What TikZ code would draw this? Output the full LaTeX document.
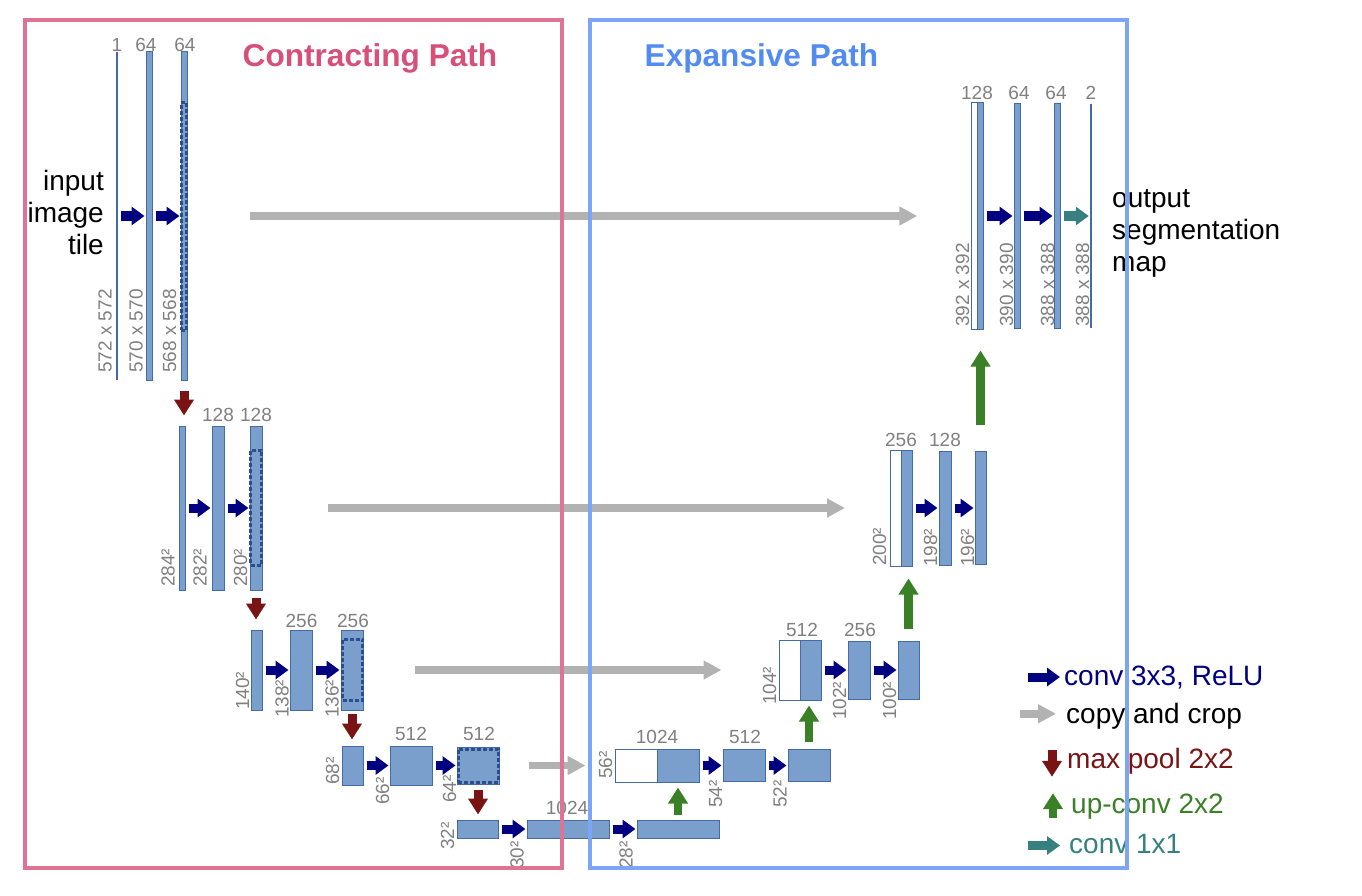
\documentclass[tikz,border=0pt]{standalone}
\usepackage{fontspec}
\setmainfont{Liberation Sans}
\usepackage{xcolor}
\usetikzlibrary{arrows.meta}

\definecolor{mapfill}{RGB}{123,159,204}
\definecolor{mapedge}{RGB}{68,106,168}
\definecolor{cropedge}{RGB}{45,78,142}
\definecolor{labgray}{RGB}{128,128,128}
\definecolor{convcol}{RGB}{0,0,128}
\definecolor{copycol}{RGB}{178,178,178}
\definecolor{poolcol}{RGB}{122,20,20}
\definecolor{upcol}{RGB}{58,128,38}
\definecolor{outcol}{RGB}{55,128,127}
\definecolor{pinkframe}{RGB}{222,115,150}
\definecolor{pinktitle}{RGB}{214,80,122}
\definecolor{blueframe}{RGB}{125,165,245}
\definecolor{bluetitle}{RGB}{82,140,240}

\begin{document}
\begin{tikzpicture}[x=1pt, y=-1pt,
  fmap/.style 2 args={draw=mapedge, fill=mapfill, line width=1pt, inner sep=0pt, minimum width=#1, minimum height=#2},
  emap/.style 2 args={fmap={#1}{#2}, fill=white},
  thinmap/.style 2 args={fmap={#1}{#2}, draw=none, fill=mapedge},
  crop/.style 2 args={draw=cropedge, dash pattern=on 4pt off 2pt, line width=3pt, inner sep=0pt, minimum width=#1, minimum height=#2},
  chan/.style={font=\fontsize{19}{22}\selectfont, text=labgray, inner sep=0pt},
  dim/.style={chan, rotate=90, anchor=west},
  big/.style={font=\fontsize{28}{32}\selectfont, inner sep=0pt},
  title/.style={font=\fontsize{31.6}{36}\selectfont\bfseries, inner sep=0pt, anchor=base},
  conv/.style={-{Triangle[length=13pt,width=18pt]}, line width=9pt, draw=convcol, shorten <=3pt, shorten >=1pt},
  copy/.style={-{Triangle[length=18pt,width=18pt]}, line width=7.5pt, draw=copycol},
  pool/.style={-{Triangle[length=16pt,width=19pt]}, line width=9pt, draw=poolcol},
  up/.style={-{Triangle[length=16pt,width=19pt]}, line width=8.5pt, draw=upcol},
  last/.style={conv, draw=outcol}]
\useasboundingbox (0,0) rectangle (1362,896);

% contracting path
\node[thinmap={1.5}{328}] (c10) at (117,216) {};
\node[fmap={6}{328}] (c11) at (149,216) {};
\node[fmap={6}{328}] (c12) at (184,216) {};
\node[crop={5.5}{227}] (k1) at (184,216.5) {};
\node[fmap={6}{164}] (c21) at (182,508) {};
\node[fmap={12}{164}] (c22) at (218,508) {};
\node[fmap={12}{164}] (c23) at (256,508) {};
\node[crop={11}{115}] (k2) at (256,507.5) {};
\node[fmap={11}{80}] (c31) at (256.5,670) {};
\node[fmap={22}{80}] (c32) at (301,670) {};
\node[fmap={22}{80}] (c33) at (352,670) {};
\node[crop={20}{61}] (k3) at (352.5,669.5) {};
\node[fmap={21}{39}] (c41) at (352.5,765.5) {};
\node[fmap={42}{39}] (c42) at (411,765.5) {};
\node[fmap={42}{37}] (c43) at (478,765.5) {};
\node[crop={40}{33}] (k4) at (478,765.5) {};
\node[fmap={41}{18}] (c51) at (478,829) {};
\node[fmap={82}{18}] (c52) at (568,829) {};
\node[fmap={82}{18}] (c53) at (678,829) {};

% expansive path
\node[emap={42}{33}] (u4w) at (636,765.5) {};
\node[fmap={42}{33}] (u4b) at (678,765.5) {};
\node[fmap={42}{32}] (e41) at (744,765.5) {};
\node[fmap={42}{32}] (e42) at (809,765.5) {};
\node[emap={21}{60}] (u3w) at (789.5,670) {};
\node[fmap={21}{60}] (u3b) at (810.5,670) {};
\node[fmap={22}{58}] (e31) at (859,670) {};
\node[fmap={21}{58}] (e32) at (908.5,670) {};
\node[emap={11}{116}] (u2w) at (896,508) {};
\node[fmap={11}{116}] (u2b) at (907,508) {};
\node[fmap={12}{114}] (e21) at (945,508) {};
\node[fmap={11}{113}] (e22) at (980.5,508) {};
\node[emap={5.5}{226}] (u1w) at (974.5,216) {};
\node[fmap={6}{226}] (u1b) at (980,216) {};
\node[fmap={6}{224}] (e11) at (1017,216) {};
\node[fmap={6}{224}] (e12) at (1057,216) {};
\node[thinmap={1.5}{224}] (out) at (1091,216) {};

% channels
\node[chan] (n10) at (117,44.5) {1};
\node[chan] (n11) at (146,44.5) {64};
\node[chan] (n12) at (185,44.5) {64};
\node[chan] (n22) at (218,415) {128};
\node[chan] (n23) at (256,415) {128};
\node[chan] (n32) at (301.5,621) {256};
\node[chan] (n33) at (353,621) {256};
\node[chan] (n42) at (411,734) {512};
\node[chan] (n43) at (479,734) {512};
\node[chan] (n52) at (567,808) {1024};
\node[chan] (m4) at (657,737) {1024};
\node[chan] (m41) at (745,737) {512};
\node[chan] (m3) at (802,629.5) {512};
\node[chan] (m31) at (860,630) {256};
\node[chan] (m2) at (901,440) {256};
\node[chan] (m21) at (945,440) {128};
\node[chan] (m1) at (977,93) {128};
\node[chan] (m11) at (1019,93) {64};
\node[chan] (m12) at (1056,93) {64};
\node[chan] (m13) at (1091,93) {2};

% sizes
\node[dim] (s10) at (105,373) {572 x 572};
\node[dim] (s11) at (136,373) {570 x 570};
\node[dim] (s12) at (169.5,373) {568 x 568};
\node[dim] (s21) at (168,587) {284²};
\node[dim] (s22) at (200,587) {282²};
\node[dim] (s23) at (240.5,587) {280²};
\node[dim] (s31) at (242.5,710) {140²};
\node[dim] (s32) at (282,718) {138²};
\node[dim] (s33) at (332,718) {136²};
\node[dim] (s41) at (332.5,785) {68²};
\node[dim] (s42) at (382.5,805) {66²};
\node[dim] (s43) at (449.5,803) {64²};
\node[dim] (s51) at (447.5,850) {32²};
\node[dim] (s52) at (517,869) {30²};
\node[dim] (s53) at (626,869) {28²};
\node[dim] (t4) at (605.5,779) {56²};
\node[dim] (t41) at (715.5,808) {54²};
\node[dim] (t42) at (780,808) {52²};
\node[dim] (t3) at (769.5,705) {104²};
\node[dim] (t31) at (839.5,720) {102²};
\node[dim] (t32) at (889.5,720) {100²};
\node[dim] (t2) at (879.5,566) {200²};
\node[dim] (t21) at (930.5,567) {198²};
\node[dim] (t22) at (967.5,567) {196²};
\node[dim] (t1) at (962.5,327) {392 x 392};
\node[dim] (t11) at (1006.5,327) {390 x 390};
\node[dim] (t12) at (1047.5,327) {388 x 388};
\node[dim] (t13) at (1082.5,327) {388 x 388};

% texts
\node[big, align=right, anchor=north east] (inp) at (104,170) {input\\image\\tile};
\node[big, align=left, anchor=north west] (outp) at (1112,189) {output\\segmentation\\map};
\node[title, text=pinktitle] (tc) at (370,67) {Contracting Path};
\node[title, text=bluetitle] (te) at (761.5,67) {Expansive Path};

% conv 3x3
\draw[conv] (c10) -- (c11);
\draw[conv] (c11) -- (c12);
\draw[conv] (c21) -- (c22);
\draw[conv] (c22) -- (c23);
\draw[conv] (c31) -- (c32);
\draw[conv] (c32) -- (c33);
\draw[conv] (c41) -- (c42);
\draw[conv] (c42) -- (c43);
\draw[conv] (c51) -- (c52);
\draw[conv] (c52) -- (c53);
\draw[conv] (u4b) -- (e41);
\draw[conv] (e41) -- (e42);
\draw[conv] (u3b) -- (e31);
\draw[conv] (e31) -- (e32);
\draw[conv] (u2b) -- (e21);
\draw[conv] (e21) -- (e22);
\draw[conv] (u1b) -- (e11);
\draw[conv] (e11) -- (e12);
\draw[last] (e12) -- (out);

% copy and crop
\draw[copy, shorten <=62pt, shorten >=54pt] (c12.east) -- (u1w.west);
\draw[copy, shorten <=65pt, shorten >=45pt] (c23.east) -- (u2w.west);
\draw[copy, shorten <=51pt, shorten >=57pt] (c33.east) -- (u3w.west);
\draw[copy, shorten <=29pt, shorten >=29pt] (c43.east) -- (u4w.west);

% max pool
\draw[pool, shorten <=10pt, shorten >=10pt] (c12.south) -- (c12.south |- c21.north);
\draw[pool, shorten <=7pt, shorten >=10pt] (c23.south) -- (c23.south |- c31.north);
\draw[pool, shorten <=3pt, shorten >=6pt] (c33.south) -- (c33.south |- c41.north);
\draw[pool, shorten <=5pt, shorten >=5pt] (c43.south) -- (c43.south |- c51.north);

% up-conv
\draw[up, shorten <=5pt, shorten >=5pt] (c53.north) -- (c53.north |- u4b.south);
\draw[up, shorten <=7pt, shorten >=5pt] (e42.north) -- (e42.north |- u3b.south);
\draw[up, shorten <=12pt, shorten >=12pt] (e32.north) -- (e32.north |- u2b.south);
\draw[up, shorten <=26pt, shorten >=21pt] (e22.north) -- (e22.north |- u1b.south);

% legend
\node[big, anchor=base west, text=convcol] (lg1) at (1064,685) {conv 3x3, ReLU};
\node[big, anchor=base west] (lg2) at (1066,723) {copy and crop};
\node[big, anchor=base west, text=poolcol] (lg3) at (1067,768) {max pool 2x2};
\node[big, anchor=base west, text=upcol] (lg4) at (1071,813) {up-conv 2x2};
\node[big, anchor=base west, text=outcol] (lg5) at (1069,853) {conv 1x1};
\draw[conv, shorten <=0pt, shorten >=0pt] ([xshift=-36pt]lg1.west) -- ([xshift=-4pt]lg1.west);
\draw[copy] ([xshift=-46pt, yshift=2pt]lg2.west) -- ([xshift=-10pt, yshift=2pt]lg2.west);
\draw[pool] ([xshift=-15pt, yshift=11pt]lg3.west) -- ([xshift=-15pt, yshift=-16pt]lg3.west);
\draw[up] ([xshift=-18pt, yshift=-12pt]lg4.west) -- ([xshift=-18pt, yshift=13pt]lg4.west);
\draw[last, shorten <=0pt, shorten >=0pt] ([xshift=-41pt, yshift=-2pt]lg5.west) -- ([xshift=-9pt, yshift=-2pt]lg5.west);

% frames
\draw[pinkframe, line width=3.5pt] (25,20) rectangle (562,868);
\draw[blueframe, line width=3.5pt] (590,20) rectangle (1127,868);
\end{tikzpicture}
\end{document}
